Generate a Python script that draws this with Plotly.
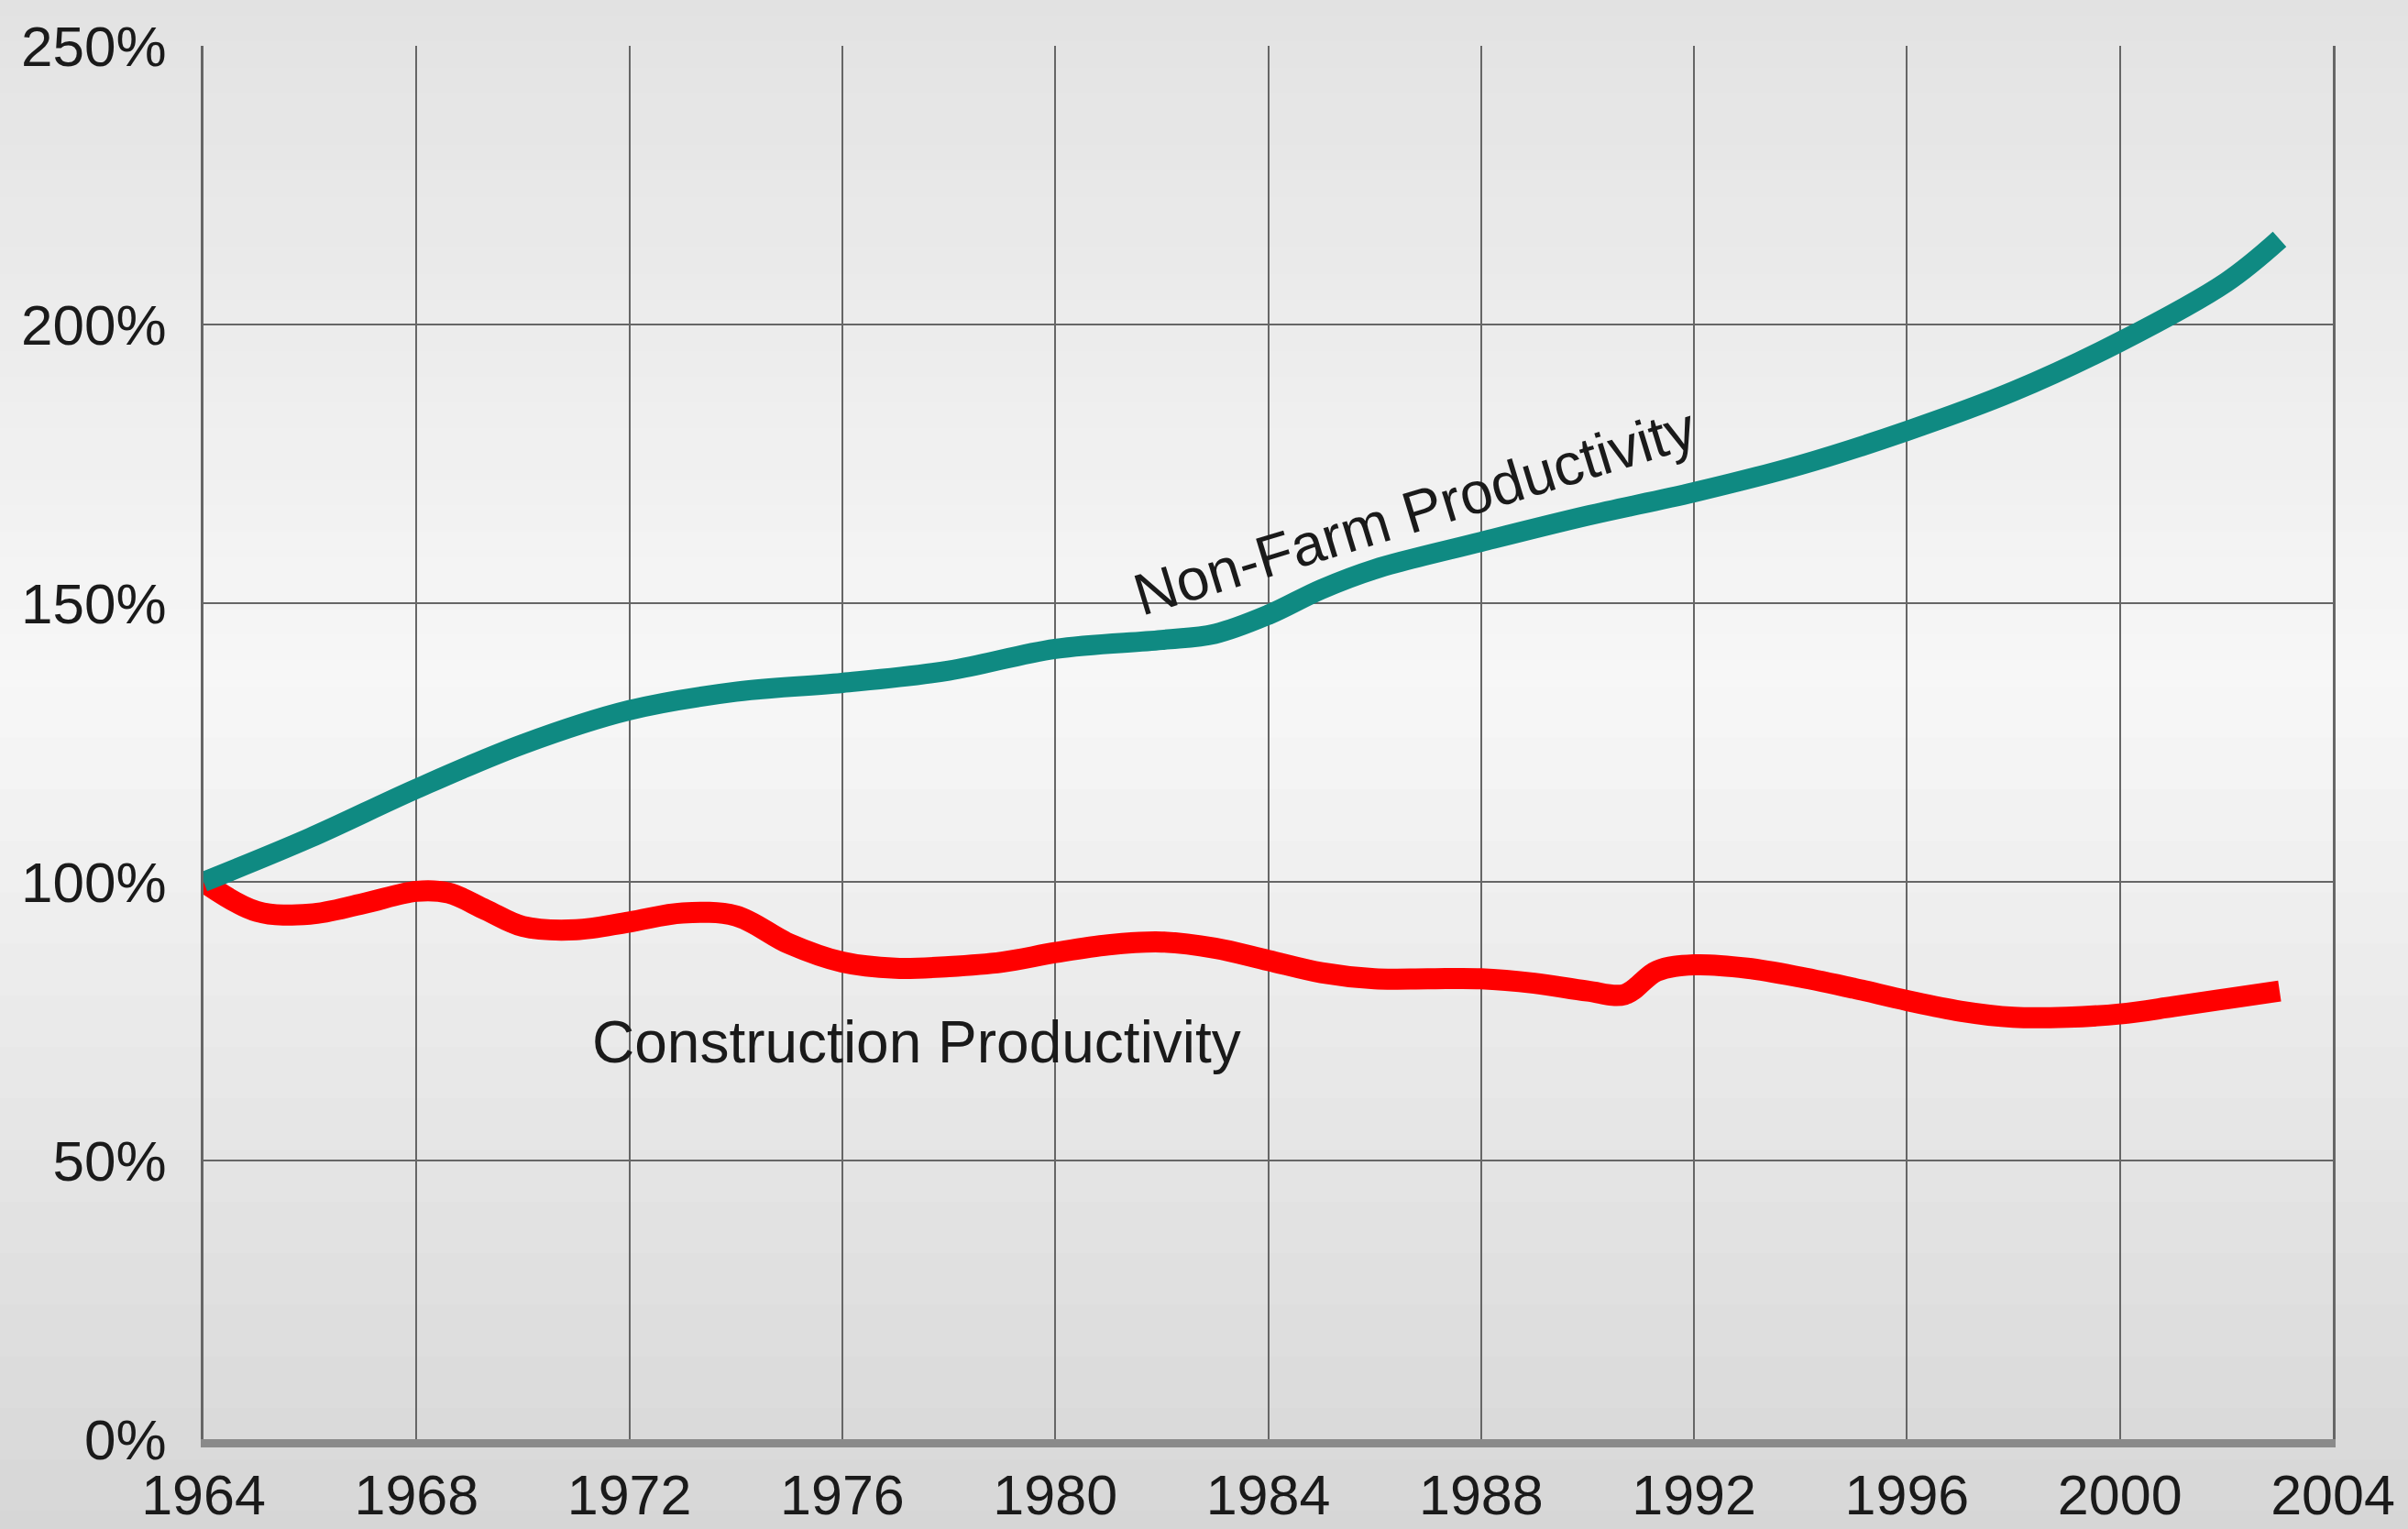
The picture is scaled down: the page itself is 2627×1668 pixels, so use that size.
import plotly.graph_objects as go

# ---- data ----
nonfarm_years = [1964, 1966, 1968, 1970, 1972, 1974, 1976, 1978, 1980, 1982, 1983, 1984, 1985,
                 1986, 1988, 1990, 1992, 1994, 1996, 1998, 2000, 2002, 2003]
nonfarm_vals = [100, 107.9, 116.7, 124.7, 130.8, 134.1, 135.7, 137.9, 141.8, 143.4, 144.5, 147.9,
                152.5, 156.1, 161.0, 165.7, 169.9, 174.8, 180.9, 188.0, 196.9, 207.6, 215.3]

constr_years = [1964, 1965, 1966, 1967, 1968, 1968.6, 1969.3, 1970, 1971, 1972, 1973, 1974, 1975,
                1976, 1977, 1978, 1979, 1980, 1981, 1982, 1983, 1984, 1985, 1986, 1987, 1988,
                1989, 1990, 1990.7, 1991.3, 1992, 1993, 1994, 1995, 1996, 1997, 1998, 1999,
                2000, 2001, 2002, 2003]
constr_vals = [100, 94.7, 94.2, 96.1, 98.3, 98.0, 95.0, 92.0, 91.4, 92.8, 94.4, 93.9, 88.9,
               85.6, 84.5, 84.8, 85.6, 87.3, 88.7, 89.2, 88.1, 85.9, 83.7, 82.6, 82.6, 82.6,
               81.8, 80.4, 79.8, 84.0, 85.1, 84.5, 82.9, 80.9, 78.7, 76.8, 75.7, 75.7,
               76.3, 77.6, 79.0, 80.4]

x_ticks = list(range(1964, 2005, 4))
y_ticks = [0, 50, 100, 150, 200, 250]
y_tick_labels = [f"{v}%" for v in y_ticks]

FONT = "Liberation Sans, Arial, sans-serif"

fig = go.Figure()
fig.add_trace(go.Scatter(x=constr_years, y=constr_vals, mode="lines",
                         line=dict(color="#ff0000", width=23, shape="spline", smoothing=1.0),
                         hoverinfo="skip", showlegend=False))
fig.add_trace(go.Scatter(x=nonfarm_years, y=nonfarm_vals, mode="lines",
                         line=dict(color="#0f8a82", width=22, shape="spline", smoothing=1.0),
                         hoverinfo="skip", showlegend=False))

# background vertical gradient (decorative)
def grad_color(t):
    # t: 0 at bottom, 1 at top
    if t < 0.55:
        a, b, u = 214, 247, t / 0.55
    else:
        a, b, u = 247, 226, (t - 0.55) / 0.45
    c = int(round(a + (b - a) * u))
    return f"rgb({c},{c},{c})"

shapes = []
N = 60
y_lo, y_hi = -0.07, 1.04
for i in range(N):
    y0 = y_lo + (y_hi - y_lo) * i / N
    y1 = y_lo + (y_hi - y_lo) * (i + 1) / N + 0.002
    t = (i + 0.5) / N
    shapes.append(dict(type="rect", xref="paper", yref="paper", x0=-0.1, x1=1.04,
                       y0=y0, y1=y1, fillcolor=grad_color(t), line=dict(width=0),
                       layer="below"))

fig.update_layout(
    width=2627, height=1668,
    margin=dict(l=222, r=82, t=50, b=98, autoexpand=False),
    paper_bgcolor="#e2e2e2",
    plot_bgcolor="rgba(0,0,0,0)",
    shapes=shapes,
    font=dict(family=FONT, color="#1a1a1a", size=62),
    xaxis=dict(range=[1964, 2004], tickvals=x_ticks, ticktext=[str(v) for v in x_ticks],
               showgrid=True, gridcolor="#666666", gridwidth=2,
               showline=True, linecolor="#8a8a8a", linewidth=9, mirror=False,
               ticks="", zeroline=False, tickfont=dict(size=61, family=FONT),
               ticklabelstandoff=0, automargin=False),
    yaxis=dict(range=[0, 250], tickvals=y_ticks, ticktext=y_tick_labels,
               showgrid=True, gridcolor="#666666", gridwidth=2,
               showline=True, linecolor="#666666", linewidth=3, mirror=True,
               ticks="", zeroline=False, tickfont=dict(size=62, family=FONT),
               ticklabelstandoff=25, automargin=False),
    annotations=[
        dict(x=1986.75, y=166.5, xref="x", yref="y", text="Non-Farm Productivity",
             showarrow=False, textangle=-17, font=dict(size=64, family=FONT, color="#1a1a1a")),
        dict(x=1977.4, y=71.3, xref="x", yref="y", text="Construction Productivity",
             showarrow=False, font=dict(size=64, family=FONT, color="#1a1a1a")),
    ],
)

fig.write_html("out.html", config={"displayModeBar": False},
               post_script="document.body.style.margin='0';document.body.style.background='#e2e2e2';")
